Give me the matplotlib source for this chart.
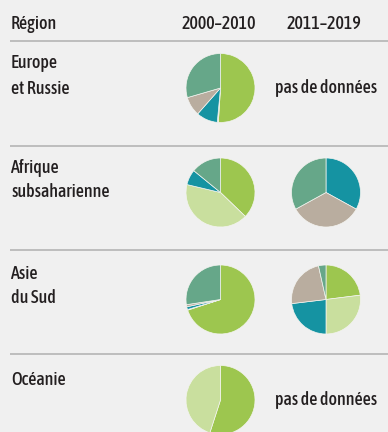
import matplotlib
matplotlib.use("Agg")
import matplotlib.pyplot as plt
from matplotlib import font_manager

W, H = 388, 432

regions = [["Europe", "et Russie"], ["Afrique", "subsaharienne"], ["Asie", "du Sud"], ["Océanie"]]
periods = ["2000–2010", "2011–2019"]
no_data = "pas de données"

# shares per region, segments clockwise from 12 o'clock
shares_2000_2010 = [
    [51, 0.5, 10, 9, 29.5],
    [37.2, 41.5, 7.2, 0, 14.1],
    [70, 0.3, 1.3, 1, 27.4],
    [55, 45, 0, 0, 0],
]
shares_2011_2019 = [
    None,
    [0, 0, 33, 34, 33],
    [23, 27, 23.1, 23.4, 3.5],
    None,
]
segment_colors = ["#9dc64f", "#c9df9e", "#1593a2", "#b9ad9f", "#66a789"]

# layout in pixels from the top-left corner
col_x = [220.5, 326]
row_y = [88, 192.5, 299.5, 400]
sep_y = [41, 146, 250, 354]
label_baselines = [[68, 94], [173, 197], [279, 303], [385]]
radius = 34.5

bg = "#f0f0f0"
ink = "#231f20"


def pick_narrow_font():
    # prefer a medium condensed face, then a regular one
    faces = font_manager.fontManager.ttflist
    skip = ("italic", "oblique", "mono", "serif", "light", "thin", "extra", "black")
    narrow = [f for f in faces
              if ("condensed" in f.fname.lower() or "narrow" in f.fname.lower())
              and not any(s in f.fname.lower() for s in skip)]
    for want in ("medium", "semibold", "regular"):
        for f in narrow:
            if want in f.fname.lower():
                return f.name, f.stretch, f.weight, 13.0
    for f in narrow:
        if "bold" not in f.fname.lower():
            return f.name, f.stretch, f.weight, 11.0
    return "DejaVu Sans", "normal", "normal", 10.0


font_name, font_stretch, font_weight, fs = pick_narrow_font()
font = [font_name, "DejaVu Sans"]
tkw = dict(fontsize=fs, color=ink, family=font, stretch=font_stretch, weight=font_weight)

fig = plt.figure(figsize=(W / 100, H / 100), dpi=100, facecolor=bg)
ax = fig.add_axes([0, 0, 1, 1])
ax.set_facecolor(bg)


def fy(y):
    return H - y


def draw_pie(values, cx, cy):
    vals = [v for v in values if v > 0]
    cols = [c for v, c in zip(values, segment_colors) if v > 0]
    ax.pie(vals, colors=cols, center=(cx, fy(cy)), radius=radius,
           startangle=90, counterclock=False,
           wedgeprops=dict(edgecolor="#f4f4f0", linewidth=0.5))


for i, lines in enumerate(regions):
    for j, period_vals in enumerate([shares_2000_2010[i], shares_2011_2019[i]]):
        if period_vals is None:
            ax.text(col_x[j], fy(row_y[i]), no_data, ha="center", va="center", **tkw)
        else:
            draw_pie(period_vals, col_x[j], row_y[i])
    for line, yb in zip(lines, label_baselines[i]):
        ax.text(11, fy(yb), line, ha="left", va="baseline", **tkw)

# header
ax.text(11, fy(29), "Région", ha="left", va="baseline", **tkw)
for x, p in zip(col_x, periods):
    ax.text(x - 2, fy(29), p, ha="center", va="baseline", **tkw)

for y in sep_y:
    ax.plot([10, W], [fy(y), fy(y)], color="#b4b4b4", linewidth=1.2, solid_capstyle="butt")

ax.set_xlim(0, W)
ax.set_ylim(0, H)
ax.set_aspect("equal")
ax.axis("off")

fig.savefig("out.png", dpi=100, facecolor=bg)
